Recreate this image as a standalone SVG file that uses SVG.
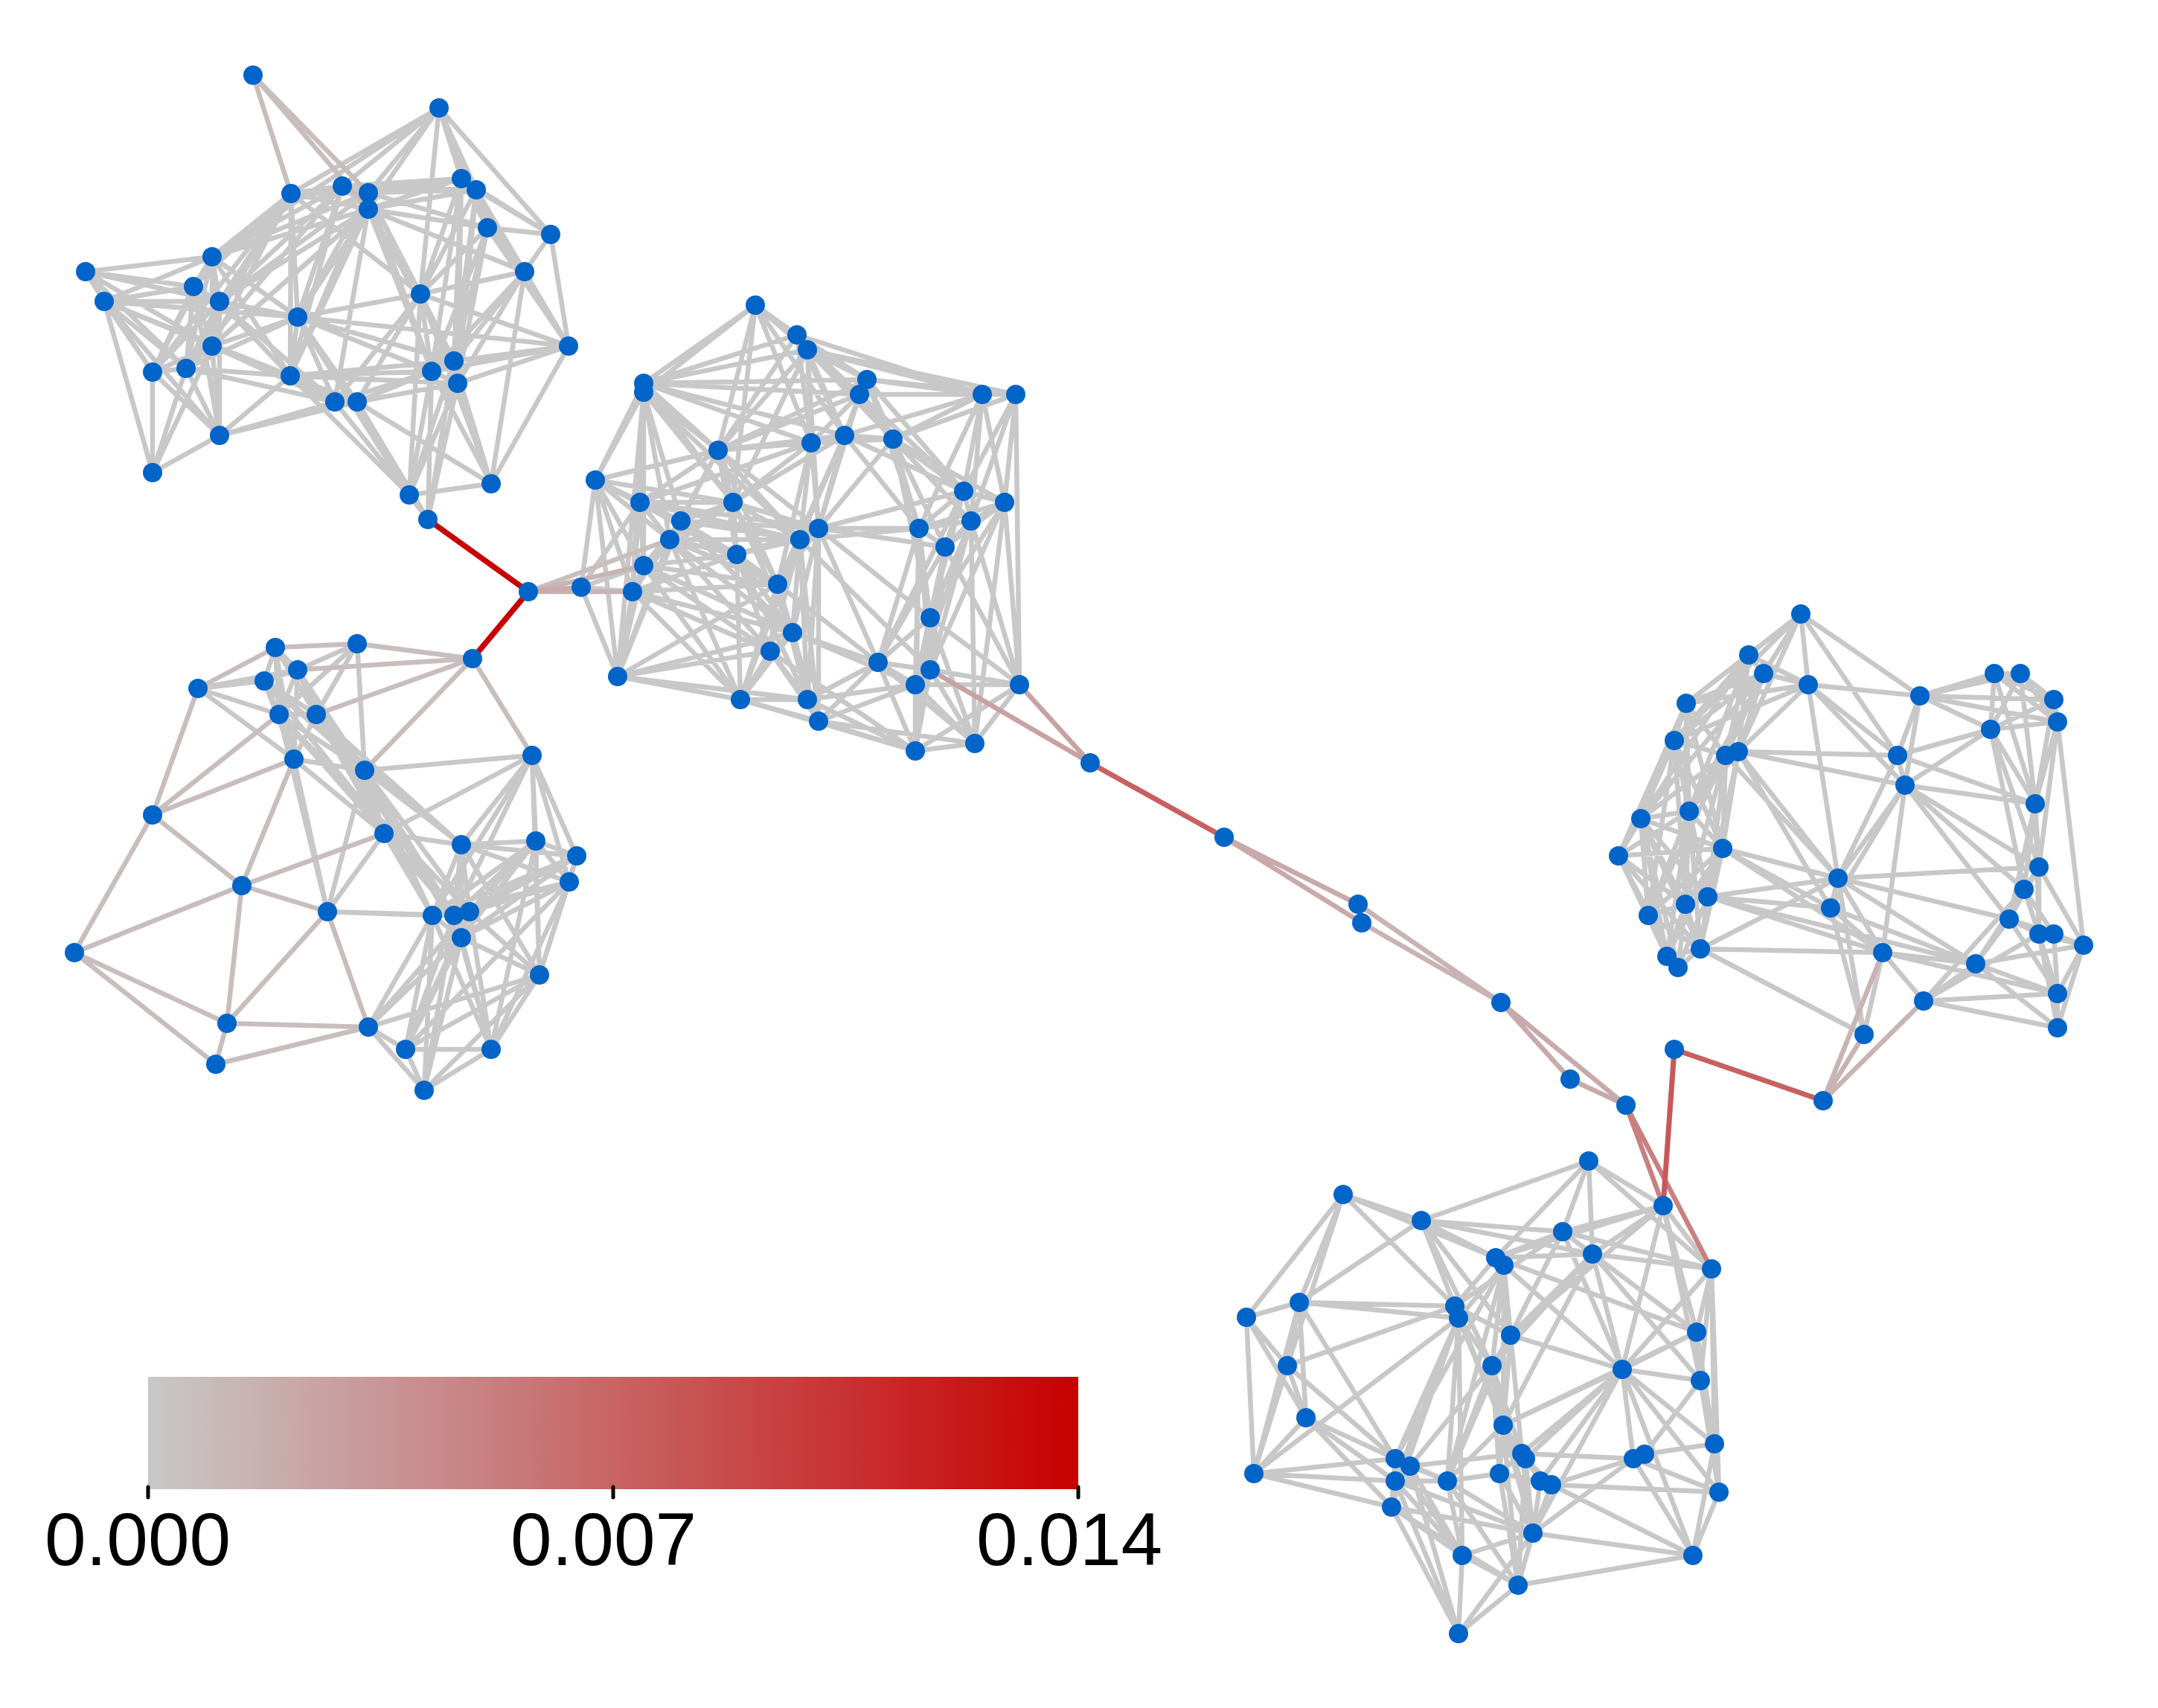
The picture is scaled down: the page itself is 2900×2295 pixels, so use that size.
<svg xmlns="http://www.w3.org/2000/svg" width="2900" height="2295" viewBox="0 0 2900 2295">
<defs>
<style>
#connectors path{fill:none;stroke-width:6.5;stroke-linecap:butt}
.g{stroke:#c8c8c8}
.p1{stroke:#c9bebe}
.p2{stroke:#c8b4b4}
.p3{stroke:#c8aaaa}
.p4{stroke:#c8a2a2}
.p5{stroke:#c88080}
.r1{stroke:#c86060;stroke-width:7!important}
.r2{stroke:#c85858;stroke-width:7!important}
.r0{stroke:#c80000;stroke-width:7.5!important}
.nd circle{fill:#0064c8}
.tk{stroke:#000;stroke-width:5;stroke-linecap:round}
.lb{font-family:"Liberation Sans",Arial,sans-serif;font-size:100px;fill:#000;text-anchor:middle}
</style>
<linearGradient id="cbar" x1="0" y1="0" x2="1" y2="0">
<stop offset="0" stop-color="#c8c8c8"/>
<stop offset="1" stop-color="#c80000"/>
</linearGradient>
</defs>
<rect width="2900" height="2295" fill="#fff"/>
<g id="connectors">
<path class="g" d="M590 145L391 260M590 145L460 250M590 145L495 259M590 145L495 281M590 145L620 240M590 145L640 255M590 145L655 306M590 145L740 315M590 145L285 345M590 145L565 395M391 260L460 250M391 260L495 259M391 260L495 281M391 260L620 240M391 260L285 345M391 260L260 385M391 260L295 405M391 260L400 426M391 260L565 395M391 260L285 465M391 260L390 505M391 260L205 500M391 260L250 495M460 250L495 259M460 250L495 281M460 250L620 240M460 250L640 255M460 250L285 345M460 250L295 405M460 250L400 426M460 250L250 495M460 250L390 505M495 259L495 281M495 259L620 240M495 259L640 255M495 259L655 306M495 259L285 345M495 259L295 405M495 259L400 426M495 259L565 395M495 259L610 485M495 259L580 499M495 259L390 505M495 281L620 240M495 281L640 255M495 281L655 306M495 281L705 365M495 281L295 405M495 281L400 426M495 281L565 395M495 281L285 465M495 281L250 495M495 281L390 505M495 281L580 499M495 281L610 485M495 281L450 540M495 281L285 345M620 240L640 255M620 240L655 306M620 240L740 315M620 240L705 365M620 240L565 395M620 240L610 485M620 240L580 499M620 240L615 515M640 255L655 306M640 255L740 315M640 255L705 365M640 255L565 395M640 255L610 485M640 255L615 515M655 306L740 315M655 306L705 365M655 306L565 395M655 306L764 465M655 306L610 485M655 306L580 499M655 306L615 515M740 315L705 365M740 315L764 465M705 365L565 395M705 365L764 465M705 365L610 485M705 365L580 499M705 365L615 515M705 365L660 650M285 345L115 365M285 345L260 385M285 345L140 405M285 345L295 405M285 345L400 426M285 345L285 465M285 345L250 495M285 345L205 500M285 345L390 505M115 365L260 385M115 365L140 405M115 365L295 405M115 365L285 465M115 365L250 495M115 365L205 500M260 385L140 405M260 385L295 405M260 385L285 465M260 385L205 500M260 385L250 495M260 385L295 585M140 405L295 405M140 405L400 426M140 405L285 465M140 405L205 500M140 405L250 495M140 405L205 635M140 405L295 585M140 405L390 505M295 405L400 426M295 405L285 465M295 405L205 500M295 405L250 495M295 405L390 505M295 405L295 585M295 405L450 540M400 426L565 395M400 426L285 465M400 426L250 495M400 426L390 505M400 426L610 485M400 426L580 499M400 426L450 540M400 426L480 540M400 426L764 465M400 426L550 665M565 395L610 485M565 395L580 499M565 395L615 515M565 395L450 540M565 395L480 540M565 395L550 665M565 395L764 465M565 395L660 650M764 465L610 485M764 465L580 499M764 465L615 515M764 465L660 650M285 465L205 500M285 465L250 495M285 465L390 505M285 465L450 540M285 465L295 585M285 465L205 635M205 500L250 495M205 500L295 585M205 500L205 635M250 495L390 505M250 495L295 585M250 495L205 635M250 495L450 540M390 505L610 485M390 505L580 499M390 505L450 540M390 505L480 540M390 505L295 585M390 505L550 665M390 505L615 515M610 485L580 499M610 485L615 515M610 485L480 540M610 485L660 650M610 485L550 665M610 485L575 698M580 499L615 515M580 499L450 540M580 499L480 540M580 499L660 650M580 499L550 665M580 499L575 698M615 515L480 540M615 515L660 650M615 515L575 698M615 515L550 665M450 540L480 540M450 540L295 585M450 540L550 665M480 540L660 650M480 540L550 665M480 540L575 698M480 540L295 585M295 585L205 635M660 650L550 665M550 665L575 698"/>
<path class="p1" d="M340 101L391 260M340 101L495 259M340 101L495 281"/>
<path class="g" d="M370 870L400 900M370 870L355 915M370 870L375 960M370 870L425 960M370 870L395 1020M480 865L400 900M480 865L375 960M480 865L425 960M480 865L490 1035M400 900L355 915M400 900L266 925M400 900L375 960M400 900L425 960M400 900L395 1020M400 900L490 1035M400 900L581 1230M400 900L620 1260M400 900L516 1120M355 915L266 925M355 915L375 960M355 915L425 960M355 915L395 1020M355 915L490 1035M355 915L620 1135M355 915L610 1230M266 925L375 960M266 925L395 1020M375 960L425 960M375 960L395 1020M375 960L490 1035M375 960L516 1120M375 960L631 1225M375 960L440 1225M425 960L395 1020M425 960L490 1035M425 960L516 1120M425 960L620 1135M425 960L581 1230M425 960L610 1230M395 1020L490 1035M395 1020L516 1120M395 1020L440 1225M490 1035L715 1015M490 1035L516 1120M490 1035L620 1135M490 1035L440 1225M490 1035L581 1230M490 1035L610 1230M490 1035L631 1225M715 1015L516 1120M715 1015L620 1135M715 1015L720 1130M715 1015L775 1150M715 1015L765 1185M715 1015L581 1230M715 1015L610 1230M715 1015L725 1310M516 1120L620 1135M516 1120L440 1225M516 1120L581 1230M516 1120L610 1230M620 1135L720 1130M620 1135L775 1150M620 1135L765 1185M620 1135L581 1230M620 1135L610 1230M620 1135L631 1225M620 1135L620 1260M620 1135L725 1310M720 1130L775 1150M720 1130L765 1185M720 1130L581 1230M720 1130L610 1230M720 1130L631 1225M720 1130L620 1260M720 1130L725 1310M720 1130L660 1410M775 1150L765 1185M775 1150L581 1230M775 1150L610 1230M775 1150L631 1225M775 1150L620 1260M775 1150L725 1310M765 1185L581 1230M765 1185L610 1230M765 1185L631 1225M765 1185L620 1260M765 1185L725 1310M765 1185L545 1410M765 1185L660 1410M440 1225L581 1230M440 1225L610 1230M581 1230L610 1230M581 1230L631 1225M581 1230L620 1260M581 1230L495 1380M581 1230L545 1410M581 1230L660 1410M581 1230L570 1465M610 1230L631 1225M610 1230L620 1260M610 1230L545 1410M610 1230L660 1410M610 1230L570 1465M631 1225L620 1260M631 1225L725 1310M631 1225L495 1380M631 1225L545 1410M631 1225L660 1410M620 1260L725 1310M620 1260L495 1380M620 1260L545 1410M620 1260L660 1410M620 1260L570 1465M725 1310L495 1380M725 1310L545 1410M725 1310L660 1410M725 1310L570 1465M495 1380L545 1410M495 1380L570 1465M545 1410L660 1410M545 1410L570 1465M660 1410L570 1465"/>
<path class="p1" d="M635 885L480 865M635 885L400 900M635 885L425 960M635 885L490 1035M635 885L715 1015M100 1280L205 1095M100 1280L325 1190M100 1280L305 1375M100 1280L290 1430M205 1095L266 925M205 1095L375 960M205 1095L395 1020M205 1095L325 1190M305 1375L325 1190M305 1375L290 1430M305 1375L495 1380M305 1375L440 1225M290 1430L495 1380M325 1190L440 1225M325 1190L516 1120M325 1190L395 1020M370 870L480 865M370 870L266 925M440 1225L495 1380"/>
<path class="g" d="M1015 410L1071 450M1015 410L1085 470M1015 410L865 515M1015 410L865 527M1015 410L965 605M1015 410L1090 595M1015 410L1155 530M1015 410L1135 585M1015 410L985 675M1071 450L1085 470M1071 450L1165 510M1071 450L1155 530M1071 450L865 515M1071 450L1090 595M1071 450L1135 585M1071 450L965 605M1071 450L1320 530M1071 450L1200 590M1085 470L1165 510M1085 470L1155 530M1085 470L1320 530M1085 470L1365 530M1085 470L865 515M1085 470L1135 585M1085 470L1090 595M1085 470L1200 590M1085 470L965 605M1085 470L985 675M1085 470L1100 710M1165 510L1155 530M1165 510L1320 530M1165 510L1365 530M1165 510L1135 585M1165 510L1200 590M1165 510L1295 660M1165 510L1235 710M1165 510L965 605M1155 530L1135 585M1155 530L1090 595M1155 530L1200 590M1155 530L965 605M1155 530L865 515M1155 530L1320 530M1155 530L1295 660M1155 530L1100 710M865 515L865 527M865 515L965 605M865 515L800 645M865 515L985 675M865 515L1090 595M865 515L1135 585M865 515L1165 510M865 527L800 645M865 527L860 675M865 527L915 700M865 527L900 725M865 527L965 605M865 527L985 675M865 527L865 760M865 527L850 795M865 527L830 909M865 527L1075 725M865 527L1100 710M1320 530L1365 530M1320 530L1200 590M1320 530L1295 660M1320 530L1350 675M1320 530L1305 700M1320 530L1135 585M1320 530L1235 710M1365 530L1295 660M1365 530L1350 675M1365 530L1305 700M1365 530L1370 920M1365 530L1200 590M1135 585L1090 595M1135 585L1200 590M1135 585L965 605M1135 585L985 675M1135 585L1295 660M1135 585L1100 710M1135 585L1075 725M1135 585L1235 710M1135 585L1045 785M1090 595L1200 590M1090 595L965 605M1090 595L985 675M1090 595L1100 710M1090 595L1075 725M1090 595L860 675M1090 595L1045 785M1200 590L1295 660M1200 590L1350 675M1200 590L1235 710M1200 590L1305 700M1200 590L1270 735M1200 590L1100 710M1200 590L1250 830M965 605L800 645M965 605L860 675M965 605L985 675M965 605L915 700M965 605L900 725M965 605L1100 710M965 605L1075 725M965 605L990 745M965 605L1045 785M800 645L860 675M800 645L915 700M800 645L900 725M800 645L865 760M800 645L781 789M800 645L850 795M800 645L830 909M800 645L985 675M800 645L990 745M860 675L985 675M860 675L915 700M860 675L900 725M860 675L865 760M860 675L850 795M860 675L1075 725M860 675L1100 710M860 675L1045 785M985 675L915 700M985 675L900 725M985 675L1100 710M985 675L1075 725M985 675L990 745M985 675L1045 785M985 675L865 760M985 675L1065 850M1295 660L1350 675M1295 660L1235 710M1295 660L1305 700M1295 660L1270 735M1295 660L1250 830M1295 660L1100 710M1295 660L1180 890M1350 675L1235 710M1350 675L1305 700M1350 675L1270 735M1350 675L1370 920M1350 675L1250 830M1350 675L1310 999M1350 675L1250 900M915 700L900 725M915 700L990 745M915 700L865 760M915 700L850 795M915 700L1045 785M915 700L1100 710M915 700L1075 725M915 700L1065 850M915 700L830 909M900 725L990 745M900 725L865 760M900 725L850 795M900 725L1045 785M900 725L830 909M900 725L1065 850M900 725L1035 875M900 725L995 940M900 725L1075 725M1100 710L1075 725M1100 710L1235 710M1100 710L1270 735M1100 710L990 745M1100 710L1045 785M1100 710L1250 830M1100 710L1065 850M1100 710L1180 890M1100 710L1085 940M1100 710L1100 969M1075 725L1235 710M1075 725L990 745M1075 725L1045 785M1075 725L1065 850M1075 725L1035 875M1075 725L995 940M1075 725L1100 969M1075 725L1250 900M1075 725L1085 940M1235 710L1305 700M1235 710L1270 735M1235 710L1250 830M1235 710L1180 890M1235 710L1250 900M1235 710L1230 920M1235 710L1230 1009M1305 700L1270 735M1305 700L1250 830M1305 700L1370 920M1305 700L1250 900M1305 700L1310 999M1305 700L1230 920M1270 735L1250 830M1270 735L1180 890M1270 735L1250 900M1270 735L1230 920M1270 735L1370 920M1270 735L1230 1009M990 745L865 760M990 745L1045 785M990 745L1065 850M990 745L1035 875M990 745L995 940M990 745L1085 940M990 745L850 795M865 760L850 795M865 760L830 909M865 760L1045 785M865 760L1065 850M865 760L995 940M865 760L1035 875M781 789L850 795M781 789L830 909M781 789L865 760M781 789L860 675M850 795L830 909M850 795L1045 785M850 795L1065 850M850 795L1035 875M850 795L995 940M1045 785L1065 850M1045 785L1035 875M1045 785L995 940M1045 785L1085 940M1045 785L1100 969M1045 785L1180 890M1250 830L1180 890M1250 830L1250 900M1250 830L1230 920M1250 830L1370 920M1250 830L1230 1009M1250 830L1310 999M1065 850L1035 875M1065 850L1180 890M1065 850L995 940M1065 850L1085 940M1065 850L1100 969M1065 850L1230 920M1035 875L995 940M1035 875L1085 940M1035 875L1100 969M1035 875L1230 1009M1180 890L1250 900M1180 890L1230 920M1180 890L1085 940M1180 890L1100 969M1180 890L1230 1009M1180 890L1310 999M1250 900L1230 920M1250 900L1370 920M1250 900L1230 1009M1250 900L1310 999M1230 920L1370 920M1230 920L1230 1009M1230 920L1310 999M1230 920L1085 940M1230 920L1100 969M1370 920L1230 1009M1370 920L1310 999M830 909L995 940M830 909L1035 875M830 909L1045 785M830 909L1065 850M830 909L1085 940M995 940L1085 940M995 940L1100 969M995 940L1230 1009M1085 940L1100 969M1085 940L1230 1009M1100 969L1230 1009M1100 969L1310 999M1230 1009L1310 999"/>
<path class="g" d="M2420 825L2350 880M2420 825L2370 905M2420 825L2430 920M2420 825L2580 935M2420 825L2550 1015M2420 825L2266 945M2420 825L2336 1010M2420 825L2250 995M2350 880L2370 905M2350 880L2430 920M2350 880L2266 945M2350 880L2250 995M2350 880L2319 1015M2350 880L2205 1100M2350 880L2270 1090M2350 880L2336 1010M2370 905L2430 920M2370 905L2266 945M2370 905L2250 995M2370 905L2336 1010M2370 905L2270 1090M2370 905L2205 1100M2370 905L2319 1015M2430 920L2266 945M2430 920L2250 995M2430 920L2336 1010M2430 920L2580 935M2430 920L2550 1015M2430 920L2560 1055M2430 920L2470 1180M2266 945L2250 995M2266 945L2319 1015M2266 945L2205 1100M2266 945L2270 1090M2266 945L2175 1150M2266 945L2315 1140M2266 945L2265 1215M2250 995L2319 1015M2250 995L2205 1100M2250 995L2270 1090M2250 995L2175 1150M2250 995L2315 1140M2250 995L2215 1230M2250 995L2265 1215M2250 995L2295 1205M2319 1015L2336 1010M2319 1015L2270 1090M2319 1015L2315 1140M2319 1015L2470 1180M2319 1015L2265 1215M2319 1015L2295 1205M2319 1015L2205 1100M2319 1015L2215 1230M2336 1010L2550 1015M2336 1010L2560 1055M2336 1010L2315 1140M2336 1010L2470 1180M2336 1010L2460 1220M2336 1010L2270 1090M2336 1010L2295 1205M2580 935L2680 905M2580 935L2715 905M2580 935L2760 940M2580 935L2765 970M2580 935L2675 980M2580 935L2550 1015M2580 935L2560 1055M2680 905L2715 905M2680 905L2760 940M2680 905L2765 970M2680 905L2675 980M2680 905L2735 1080M2715 905L2760 940M2715 905L2765 970M2715 905L2675 980M2715 905L2735 1080M2760 940L2765 970M2760 940L2675 980M2760 940L2735 1080M2765 970L2675 980M2765 970L2735 1080M2765 970L2740 1165M2765 970L2800 1270M2675 980L2550 1015M2675 980L2560 1055M2675 980L2735 1080M2675 980L2740 1165M2675 980L2720 1195M2550 1015L2560 1055M2550 1015L2735 1080M2550 1015L2470 1180M2560 1055L2735 1080M2560 1055L2470 1180M2560 1055L2740 1165M2560 1055L2720 1195M2560 1055L2460 1220M2560 1055L2700 1235M2560 1055L2530 1280M2735 1080L2740 1165M2735 1080L2720 1195M2735 1080L2700 1235M2735 1080L2740 1255M2205 1100L2270 1090M2205 1100L2175 1150M2205 1100L2315 1140M2205 1100L2265 1215M2205 1100L2295 1205M2205 1100L2215 1230M2205 1100L2285 1275M2205 1100L2240 1285M2205 1100L2255 1300M2270 1090L2175 1150M2270 1090L2315 1140M2270 1090L2265 1215M2270 1090L2295 1205M2270 1090L2215 1230M2270 1090L2285 1275M2270 1090L2240 1285M2175 1150L2315 1140M2175 1150L2265 1215M2175 1150L2215 1230M2175 1150L2240 1285M2175 1150L2285 1275M2175 1150L2255 1300M2315 1140L2470 1180M2315 1140L2265 1215M2315 1140L2295 1205M2315 1140L2460 1220M2315 1140L2285 1275M2315 1140L2530 1280M2315 1140L2215 1230M2315 1140L2240 1285M2470 1180L2740 1165M2470 1180L2295 1205M2470 1180L2460 1220M2470 1180L2285 1275M2470 1180L2530 1280M2470 1180L2655 1295M2470 1180L2505 1390M2470 1180L2700 1235M2740 1165L2720 1195M2740 1165L2700 1235M2740 1165L2740 1255M2740 1165L2800 1270M2740 1165L2655 1295M2720 1195L2700 1235M2720 1195L2740 1255M2720 1195L2760 1255M2720 1195L2655 1295M2720 1195L2585 1345M2265 1215L2295 1205M2265 1215L2215 1230M2265 1215L2285 1275M2265 1215L2240 1285M2265 1215L2255 1300M2295 1205L2460 1220M2295 1205L2285 1275M2295 1205L2530 1280M2295 1205L2655 1295M2295 1205L2255 1300M2460 1220L2530 1280M2460 1220L2655 1295M2460 1220L2505 1390M2215 1230L2285 1275M2215 1230L2240 1285M2215 1230L2255 1300M2700 1235L2740 1255M2700 1235L2760 1255M2700 1235L2800 1270M2700 1235L2655 1295M2700 1235L2765 1335M2740 1255L2760 1255M2740 1255L2800 1270M2740 1255L2765 1335M2740 1255L2765 1381M2760 1255L2800 1270M2760 1255L2765 1335M2800 1270L2765 1335M2800 1270L2765 1381M2285 1275L2240 1285M2285 1275L2255 1300M2285 1275L2530 1280M2285 1275L2505 1390M2530 1280L2655 1295M2530 1280L2585 1345M2530 1280L2505 1390M2530 1280L2765 1335M2655 1295L2585 1345M2655 1295L2765 1335M2655 1295L2765 1381M2655 1295L2800 1270M2585 1345L2765 1335M2585 1345L2765 1381M2585 1345L2740 1255M2765 1335L2765 1381"/>
<path class="g" d="M2135 1560L1910 1640M2135 1560L2235 1620M2135 1560L2100 1655M2135 1560L2140 1685M2135 1560L2010 1690M2135 1560L2300 1705M1805 1605L1910 1640M1805 1605L1746 1750M1805 1605L1675 1770M1805 1605L1955 1755M1805 1605L1730 1835M1805 1605L2010 1690M1910 1640L1955 1755M1910 1640L1746 1750M1910 1640L2100 1655M1910 1640L2140 1685M1910 1640L2010 1690M1910 1640L2030 1794M1910 1640L2005 1835M2235 1620L2100 1655M2235 1620L2140 1685M2235 1620L2010 1690M2235 1620L2300 1705M2235 1620L2280 1790M2235 1620L2180 1840M2235 1620L2285 1855M2235 1620L2030 1794M2235 1620L2304 1940M2100 1655L2140 1685M2100 1655L2010 1690M2100 1655L2300 1705M2100 1655L1955 1755M2100 1655L2180 1840M2100 1655L2030 1794M2140 1685L2010 1690M2140 1685L2300 1705M2140 1685L2280 1790M2140 1685L2180 1840M2140 1685L2030 1794M2140 1685L2285 1855M2140 1685L2005 1835M2140 1685L2020 1915M2010 1690L2021 1700M2010 1690L1955 1755M2010 1690L2280 1790M2010 1690L2030 1794M2021 1700L2030 1794M2021 1700L2005 1835M2021 1700L2020 1915M2021 1700L2180 1840M2021 1700L1875 1960M2021 1700L1960 1771M2021 1700L1945 1990M2300 1705L2280 1790M2300 1705L2180 1840M2300 1705L2285 1855M2300 1705L2304 1940M2300 1705L2310 2005M1746 1750L1675 1770M1746 1750L1955 1755M1746 1750L1730 1835M1746 1750L1755 1905M1746 1750L1685 1980M1746 1750L1875 1960M1746 1750L1960 1771M1675 1770L1730 1835M1675 1770L1685 1980M1675 1770L1755 1905M1955 1755L1960 1771M1955 1755L2030 1794M1955 1755L1730 1835M1955 1755L2020 1915M1960 1771L2005 1835M1960 1771L1875 1960M1960 1771L1875 1990M1960 1771L1945 1990M1960 1771L1965 2090M1960 1771L1870 2025M1960 1771L1685 1980M1960 1771L2020 1915M2030 1794L2005 1835M2030 1794L2020 1915M2030 1794L2180 1840M2030 1794L2045 1953M2030 1794L1945 1990M2030 1794L2015 1980M2280 1790L2180 1840M2280 1790L2285 1855M2280 1790L2304 1940M2280 1790L2310 2005M2280 1790L2020 1915M1730 1835L1755 1905M1730 1835L1685 1980M1730 1835L1875 1960M2005 1835L2020 1915M2005 1835L2045 1953M2005 1835L1945 1990M2005 1835L2015 1980M2005 1835L1895 1970M2005 1835L2060 2060M2180 1840L2285 1855M2180 1840L2020 1915M2180 1840L2304 1940M2180 1840L2195 1960M2180 1840L2310 2005M2180 1840L2275 2090M2180 1840L2070 1990M2180 1840L2060 2060M2180 1840L2050 1960M2180 1840L2045 1953M2285 1855L2304 1940M2285 1855L2210 1954M2285 1855L2310 2005M1755 1905L1685 1980M1755 1905L1875 1960M1755 1905L1875 1990M1755 1905L1870 2025M2020 1915L2045 1953M2020 1915L2015 1980M2020 1915L1945 1990M2020 1915L2070 1990M2020 1915L2060 2060M2020 1915L2040 2130M2304 1940L2310 2005M2304 1940L2275 2090M2304 1940L2210 1954M1875 1960L1895 1970M1875 1960L1875 1990M1875 1960L1870 2025M1875 1960L1965 2090M1875 1960L1685 1980M1875 1960L1945 1990M1895 1970L1945 1990M1895 1970L2045 1953M1895 1970L1960 2195M1895 1970L1965 2090M2045 1953L2050 1960M2045 1953L2015 1980M2045 1953L2070 1990M2045 1953L2060 2060M2045 1953L2195 1960M2050 1960L2085 1995M2050 1960L2040 2130M2050 1960L2060 2060M2195 1960L2210 1954M2195 1960L2085 1995M2195 1960L2310 2005M2195 1960L2275 2090M2195 1960L2060 2060M1685 1980L1875 1990M1685 1980L1870 2025M1875 1990L1945 1990M1875 1990L1870 2025M1875 1990L1965 2090M1875 1990L1960 2195M1875 1990L2060 2060M1945 1990L2015 1980M1945 1990L1965 2090M1945 1990L2060 2060M1945 1990L2040 2130M2015 1980L2070 1990M2015 1980L2060 2060M2015 1980L2040 2130M2085 1995L2310 2005M2085 1995L2060 2060M2085 1995L2275 2090M2070 1990L2060 2060M2070 1990L2085 1995M2310 2005L2275 2090M1870 2025L1965 2090M1870 2025L1960 2195M1870 2025L2040 2130M1870 2025L2060 2060M2060 2060L2040 2130M2060 2060L1965 2090M2060 2060L1960 2195M2060 2060L2275 2090M1965 2090L1960 2195M1965 2090L2040 2130M2275 2090L2040 2130M2040 2130L1960 2195"/>
<path class="p1" d="M710 795L900 725"/>
<path class="p2" d="M710 795L865 760M710 795L850 795M2450 1479L2505 1390M2450 1479L2585 1345M2450 1479L2530 1280M1825 1215L2017 1347M1830 1240L2017 1347"/>
<path class="p3" d="M710 795L781 789M1645 1125L1825 1215M1645 1125L1830 1240M2017 1347L2110 1450M2017 1347L2185 1485M2110 1450L2185 1485"/>
<path class="p4" d="M1370 920L1465 1025M1250 900L1465 1025"/>
<path class="p5" d="M2185 1485L2235 1620M2185 1485L2300 1705"/>
<path class="r1" d="M1465 1025L1645 1125M2250 1410L2450 1479"/>
<path class="r2" d="M2250 1410L2235 1620"/>
<path class="r0" d="M575 698L710 795M710 795L635 885"/>
</g>
<g id="nodes" class="nd">
<g id="a1"><circle cx="340" cy="101" r="13"/></g>
<g id="a2"><circle cx="590" cy="145" r="13"/></g>
<g id="a3"><circle cx="391" cy="260" r="13"/></g>
<g id="a4"><circle cx="460" cy="250" r="13"/></g>
<g id="a5"><circle cx="495" cy="259" r="13"/></g>
<g id="a6"><circle cx="495" cy="281" r="13"/></g>
<g id="a7"><circle cx="620" cy="240" r="13"/></g>
<g id="a8"><circle cx="640" cy="255" r="13"/></g>
<g id="a9"><circle cx="655" cy="306" r="13"/></g>
<g id="a10"><circle cx="740" cy="315" r="13"/></g>
<g id="a11"><circle cx="705" cy="365" r="13"/></g>
<g id="a12"><circle cx="285" cy="345" r="13"/></g>
<g id="a13"><circle cx="115" cy="365" r="13"/></g>
<g id="a14"><circle cx="260" cy="385" r="13"/></g>
<g id="a15"><circle cx="140" cy="405" r="13"/></g>
<g id="a16"><circle cx="295" cy="405" r="13"/></g>
<g id="a17"><circle cx="400" cy="426" r="13"/></g>
<g id="a18"><circle cx="565" cy="395" r="13"/></g>
<g id="a19"><circle cx="764" cy="465" r="13"/></g>
<g id="a20"><circle cx="285" cy="465" r="13"/></g>
<g id="a21"><circle cx="205" cy="500" r="13"/></g>
<g id="a22"><circle cx="250" cy="495" r="13"/></g>
<g id="a23"><circle cx="390" cy="505" r="13"/></g>
<g id="a24"><circle cx="610" cy="485" r="13"/></g>
<g id="a25"><circle cx="580" cy="499" r="13"/></g>
<g id="a26"><circle cx="615" cy="515" r="13"/></g>
<g id="a27"><circle cx="450" cy="540" r="13"/></g>
<g id="a28"><circle cx="480" cy="540" r="13"/></g>
<g id="a29"><circle cx="295" cy="585" r="13"/></g>
<g id="a30"><circle cx="205" cy="635" r="13"/></g>
<g id="a31"><circle cx="660" cy="650" r="13"/></g>
<g id="a32"><circle cx="550" cy="665" r="13"/></g>
<g id="a33"><circle cx="575" cy="698" r="13"/></g>
<g id="b1"><circle cx="370" cy="870" r="13"/></g>
<g id="b2"><circle cx="480" cy="865" r="13"/></g>
<g id="b3"><circle cx="635" cy="885" r="13"/></g>
<g id="b4"><circle cx="400" cy="900" r="13"/></g>
<g id="b5"><circle cx="355" cy="915" r="13"/></g>
<g id="b6"><circle cx="266" cy="925" r="13"/></g>
<g id="b7"><circle cx="375" cy="960" r="13"/></g>
<g id="b8"><circle cx="425" cy="960" r="13"/></g>
<g id="b9"><circle cx="395" cy="1020" r="13"/></g>
<g id="b10"><circle cx="490" cy="1035" r="13"/></g>
<g id="b11"><circle cx="715" cy="1015" r="13"/></g>
<g id="b12"><circle cx="205" cy="1095" r="13"/></g>
<g id="b13"><circle cx="516" cy="1120" r="13"/></g>
<g id="b14"><circle cx="620" cy="1135" r="13"/></g>
<g id="b15"><circle cx="720" cy="1130" r="13"/></g>
<g id="b16"><circle cx="775" cy="1150" r="13"/></g>
<g id="b17"><circle cx="765" cy="1185" r="13"/></g>
<g id="b18"><circle cx="325" cy="1190" r="13"/></g>
<g id="b19"><circle cx="440" cy="1225" r="13"/></g>
<g id="b20"><circle cx="581" cy="1230" r="13"/></g>
<g id="b21"><circle cx="610" cy="1230" r="13"/></g>
<g id="b22"><circle cx="631" cy="1225" r="13"/></g>
<g id="b23"><circle cx="620" cy="1260" r="13"/></g>
<g id="b24"><circle cx="100" cy="1280" r="13"/></g>
<g id="b25"><circle cx="725" cy="1310" r="13"/></g>
<g id="b26"><circle cx="305" cy="1375" r="13"/></g>
<g id="b27"><circle cx="495" cy="1380" r="13"/></g>
<g id="b28"><circle cx="545" cy="1410" r="13"/></g>
<g id="b29"><circle cx="660" cy="1410" r="13"/></g>
<g id="b30"><circle cx="290" cy="1430" r="13"/></g>
<g id="b31"><circle cx="570" cy="1465" r="13"/></g>
<g id="h1"><circle cx="710" cy="795" r="13"/></g>
<g id="c1"><circle cx="1015" cy="410" r="13"/></g>
<g id="c2"><circle cx="1071" cy="450" r="13"/></g>
<g id="c3"><circle cx="1085" cy="470" r="13"/></g>
<g id="c4"><circle cx="1165" cy="510" r="13"/></g>
<g id="c5"><circle cx="1155" cy="530" r="13"/></g>
<g id="c6a"><circle cx="865" cy="515" r="13"/></g>
<g id="c6b"><circle cx="865" cy="527" r="13"/></g>
<g id="c7"><circle cx="1320" cy="530" r="13"/></g>
<g id="c8"><circle cx="1365" cy="530" r="13"/></g>
<g id="c9"><circle cx="1135" cy="585" r="13"/></g>
<g id="c10"><circle cx="1090" cy="595" r="13"/></g>
<g id="c11"><circle cx="1200" cy="590" r="13"/></g>
<g id="c12"><circle cx="965" cy="605" r="13"/></g>
<g id="c13"><circle cx="800" cy="645" r="13"/></g>
<g id="c14"><circle cx="860" cy="675" r="13"/></g>
<g id="c15"><circle cx="985" cy="675" r="13"/></g>
<g id="c16"><circle cx="1295" cy="660" r="13"/></g>
<g id="c17"><circle cx="1350" cy="675" r="13"/></g>
<g id="c18"><circle cx="915" cy="700" r="13"/></g>
<g id="c19"><circle cx="900" cy="725" r="13"/></g>
<g id="c20"><circle cx="1100" cy="710" r="13"/></g>
<g id="c21"><circle cx="1075" cy="725" r="13"/></g>
<g id="c22"><circle cx="1235" cy="710" r="13"/></g>
<g id="c23"><circle cx="1305" cy="700" r="13"/></g>
<g id="c24"><circle cx="1270" cy="735" r="13"/></g>
<g id="c25"><circle cx="990" cy="745" r="13"/></g>
<g id="c26"><circle cx="865" cy="760" r="13"/></g>
<g id="c27"><circle cx="781" cy="789" r="13"/></g>
<g id="c28"><circle cx="850" cy="795" r="13"/></g>
<g id="c29"><circle cx="1045" cy="785" r="13"/></g>
<g id="c30"><circle cx="1250" cy="830" r="13"/></g>
<g id="c31"><circle cx="1065" cy="850" r="13"/></g>
<g id="c32"><circle cx="1035" cy="875" r="13"/></g>
<g id="c33"><circle cx="1180" cy="890" r="13"/></g>
<g id="c34"><circle cx="1250" cy="900" r="13"/></g>
<g id="c35"><circle cx="1230" cy="920" r="13"/></g>
<g id="c36"><circle cx="1370" cy="920" r="13"/></g>
<g id="c37"><circle cx="830" cy="909" r="13"/></g>
<g id="c38"><circle cx="995" cy="940" r="13"/></g>
<g id="c39"><circle cx="1085" cy="940" r="13"/></g>
<g id="c40"><circle cx="1100" cy="969" r="13"/></g>
<g id="c41"><circle cx="1230" cy="1009" r="13"/></g>
<g id="c42"><circle cx="1310" cy="999" r="13"/></g>
<g id="k1"><circle cx="1465" cy="1025" r="13"/></g>
<g id="k2"><circle cx="1645" cy="1125" r="13"/></g>
<g id="k3"><circle cx="1825" cy="1215" r="13"/></g>
<g id="k4"><circle cx="1830" cy="1240" r="13"/></g>
<g id="k5"><circle cx="2017" cy="1347" r="13"/></g>
<g id="k6"><circle cx="2110" cy="1450" r="13"/></g>
<g id="k7"><circle cx="2185" cy="1485" r="13"/></g>
<g id="k8"><circle cx="2250" cy="1410" r="13"/></g>
<g id="k9"><circle cx="2450" cy="1479" r="13"/></g>
<g id="d1"><circle cx="2420" cy="825" r="13"/></g>
<g id="d2"><circle cx="2350" cy="880" r="13"/></g>
<g id="d3"><circle cx="2370" cy="905" r="13"/></g>
<g id="d4"><circle cx="2430" cy="920" r="13"/></g>
<g id="d5"><circle cx="2266" cy="945" r="13"/></g>
<g id="d6"><circle cx="2250" cy="995" r="13"/></g>
<g id="d7a"><circle cx="2319" cy="1015" r="13"/></g>
<g id="d7b"><circle cx="2336" cy="1010" r="13"/></g>
<g id="d8"><circle cx="2580" cy="935" r="13"/></g>
<g id="d9"><circle cx="2680" cy="905" r="13"/></g>
<g id="d10"><circle cx="2715" cy="905" r="13"/></g>
<g id="d11"><circle cx="2760" cy="940" r="13"/></g>
<g id="d12"><circle cx="2765" cy="970" r="13"/></g>
<g id="d13"><circle cx="2675" cy="980" r="13"/></g>
<g id="d14"><circle cx="2550" cy="1015" r="13"/></g>
<g id="d15"><circle cx="2560" cy="1055" r="13"/></g>
<g id="d16"><circle cx="2735" cy="1080" r="13"/></g>
<g id="d17"><circle cx="2205" cy="1100" r="13"/></g>
<g id="d18"><circle cx="2270" cy="1090" r="13"/></g>
<g id="d19"><circle cx="2175" cy="1150" r="13"/></g>
<g id="d20"><circle cx="2315" cy="1140" r="13"/></g>
<g id="d21"><circle cx="2470" cy="1180" r="13"/></g>
<g id="d22"><circle cx="2740" cy="1165" r="13"/></g>
<g id="d23"><circle cx="2720" cy="1195" r="13"/></g>
<g id="d24"><circle cx="2265" cy="1215" r="13"/></g>
<g id="d25"><circle cx="2295" cy="1205" r="13"/></g>
<g id="d26"><circle cx="2460" cy="1220" r="13"/></g>
<g id="d27"><circle cx="2215" cy="1230" r="13"/></g>
<g id="d28"><circle cx="2700" cy="1235" r="13"/></g>
<g id="d29a"><circle cx="2740" cy="1255" r="13"/></g>
<g id="d29b"><circle cx="2760" cy="1255" r="13"/></g>
<g id="d30"><circle cx="2800" cy="1270" r="13"/></g>
<g id="d31"><circle cx="2285" cy="1275" r="13"/></g>
<g id="d32"><circle cx="2240" cy="1285" r="13"/></g>
<g id="d33"><circle cx="2255" cy="1300" r="13"/></g>
<g id="d34"><circle cx="2530" cy="1280" r="13"/></g>
<g id="d35"><circle cx="2655" cy="1295" r="13"/></g>
<g id="d36"><circle cx="2585" cy="1345" r="13"/></g>
<g id="d37"><circle cx="2765" cy="1335" r="13"/></g>
<g id="d38"><circle cx="2765" cy="1381" r="13"/></g>
<g id="d39"><circle cx="2505" cy="1390" r="13"/></g>
<g id="e1"><circle cx="2135" cy="1560" r="13"/></g>
<g id="e2"><circle cx="1805" cy="1605" r="13"/></g>
<g id="e3"><circle cx="1910" cy="1640" r="13"/></g>
<g id="e4"><circle cx="2235" cy="1620" r="13"/></g>
<g id="e5"><circle cx="2100" cy="1655" r="13"/></g>
<g id="e6"><circle cx="2140" cy="1685" r="13"/></g>
<g id="e7a"><circle cx="2010" cy="1690" r="13"/></g>
<g id="e7b"><circle cx="2021" cy="1700" r="13"/></g>
<g id="e8"><circle cx="2300" cy="1705" r="13"/></g>
<g id="e9"><circle cx="1746" cy="1750" r="13"/></g>
<g id="e10"><circle cx="1675" cy="1770" r="13"/></g>
<g id="e11a"><circle cx="1955" cy="1755" r="13"/></g>
<g id="e11b"><circle cx="1960" cy="1771" r="13"/></g>
<g id="e12"><circle cx="2030" cy="1794" r="13"/></g>
<g id="e13"><circle cx="2280" cy="1790" r="13"/></g>
<g id="e14"><circle cx="1730" cy="1835" r="13"/></g>
<g id="e15"><circle cx="2005" cy="1835" r="13"/></g>
<g id="e16"><circle cx="2180" cy="1840" r="13"/></g>
<g id="e17"><circle cx="2285" cy="1855" r="13"/></g>
<g id="e18"><circle cx="1755" cy="1905" r="13"/></g>
<g id="e19"><circle cx="2020" cy="1915" r="13"/></g>
<g id="e20"><circle cx="2304" cy="1940" r="13"/></g>
<g id="e21a"><circle cx="1875" cy="1960" r="13"/></g>
<g id="e21b"><circle cx="1895" cy="1970" r="13"/></g>
<g id="e22a"><circle cx="2045" cy="1953" r="13"/></g>
<g id="e22b"><circle cx="2050" cy="1960" r="13"/></g>
<g id="e23a"><circle cx="2195" cy="1960" r="13"/></g>
<g id="e23b"><circle cx="2210" cy="1954" r="13"/></g>
<g id="e24"><circle cx="1685" cy="1980" r="13"/></g>
<g id="e25"><circle cx="1875" cy="1990" r="13"/></g>
<g id="e26"><circle cx="1945" cy="1990" r="13"/></g>
<g id="e27"><circle cx="2015" cy="1980" r="13"/></g>
<g id="e28a"><circle cx="2070" cy="1990" r="13"/></g>
<g id="e28b"><circle cx="2085" cy="1995" r="13"/></g>
<g id="e29"><circle cx="2310" cy="2005" r="13"/></g>
<g id="e30"><circle cx="1870" cy="2025" r="13"/></g>
<g id="e31"><circle cx="2060" cy="2060" r="13"/></g>
<g id="e32"><circle cx="1965" cy="2090" r="13"/></g>
<g id="e33"><circle cx="2275" cy="2090" r="13"/></g>
<g id="e34"><circle cx="2040" cy="2130" r="13"/></g>
<g id="e35"><circle cx="1960" cy="2195" r="13"/></g>
</g>
<g id="colorbar">
<rect x="199" y="1850" width="1250" height="151" fill="url(#cbar)"/>
<line class="tk" x1="199" y1="1998" x2="199" y2="2012"/>
<line class="tk" x1="824" y1="1998" x2="824" y2="2012"/>
<line class="tk" x1="1449" y1="1998" x2="1449" y2="2012"/>
<text class="lb" x="185" y="2103">0.000</text>
<text class="lb" x="811" y="2103">0.007</text>
<text class="lb" x="1437" y="2103">0.014</text>
</g>
</svg>
